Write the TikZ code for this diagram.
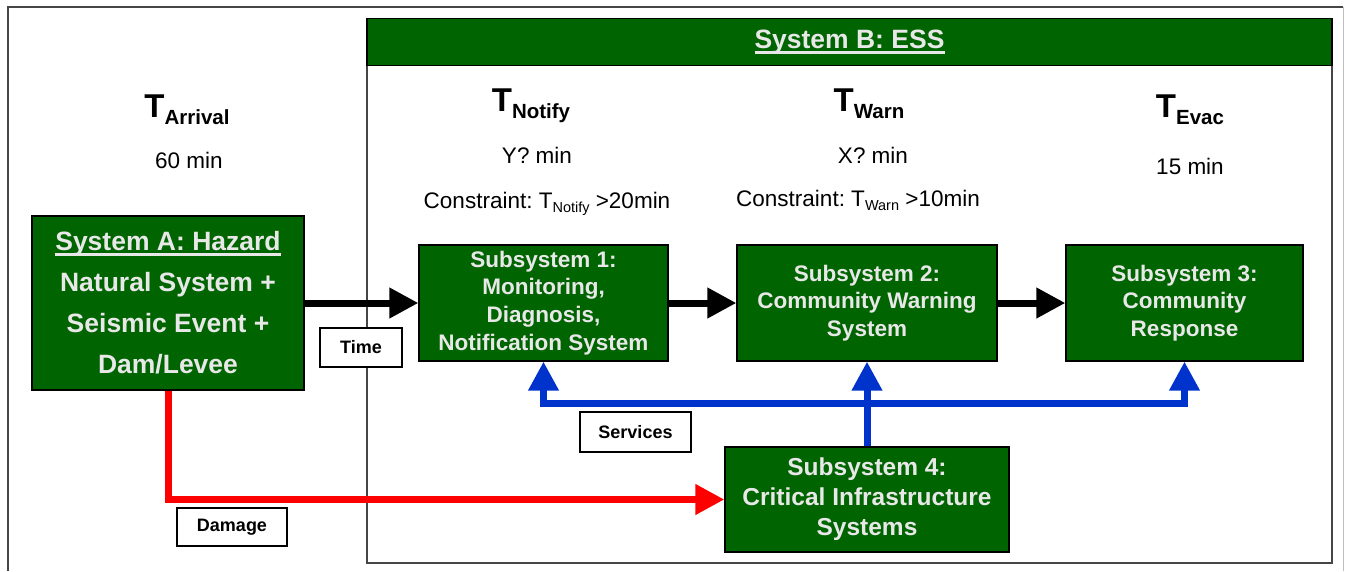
\documentclass[tikz,border=0pt]{standalone}
\usepackage{fontspec}
\setmainfont{Liberation Sans}
\usetikzlibrary{arrows.meta}
\frenchspacing

\definecolor{essgreen}{RGB}{0,100,0}
\definecolor{boxtext}{RGB}{232,232,232}
\definecolor{svcblue}{RGB}{0,51,204}
\definecolor{framegray}{RGB}{70,70,70}

\newcommand{\fs}[1]{\fontsize{#1}{#1}\selectfont}
% big T with a bold subscript
\newcommand{\Tbig}[1]{{\bfseries\fs{33}T\raisebox{-7pt}{\fs{20.5}#1}}}
% T with a small subscript inside running text
\newcommand{\Tsmall}[1]{T\raisebox{-4.5pt}{\fs{14.5}#1}}
% heavy underline close to the baseline
\newcommand{\hdrline}[1]{\setbox0\hbox{#1}\rlap{\rule[-5pt]{\wd0}{2.5pt}}\box0}

\begin{document}
\begin{tikzpicture}[x=1pt, y=-1pt,
  greenbox/.style={draw=black, line width=1.2pt, fill=essgreen, text=boxtext,
    align=center, inner sep=0pt},
  tag/.style={draw=black, line width=1.5pt, fill=white, inner sep=0pt,
    font=\bfseries\fs{18}},
  flow/.style={line width=7pt, -{Triangle[length=29pt, width=29pt]}},
  timing/.style={anchor=base, font=\fs{22.5}}]
  \useasboundingbox (0,0) rectangle (1349,571);

  % page frame
  \draw[framegray, line width=1.5pt] (8,571) -- (8,7) -- (1343,7);
  \draw[lightgray, line width=1pt] (1343,7) -- (1343,571);

  % system B frame and its title bar
  \node[draw=framegray, line width=2pt, minimum width=965, minimum height=544] (ess) at (849.5,291) {};
  \node[draw=black, line width=1.2pt, fill=essgreen, text=boxtext, anchor=north,
    minimum width=965, minimum height=47, font=\bfseries\fs{26.5}] (essTitle) at (ess.north) {\hdrline{System B: ESS}};

  % timing labels
  \node[anchor=base] (tArrival) at (187,117) {\Tbig{Arrival}};
  \node[timing] (arrivalMin) at (189,168) {60 min};
  \node[anchor=base] (tNotify) at (531,111) {\Tbig{Notify}};
  \node[timing] (notifyMin) at (537,163) {Y? min};
  \node[timing] (notifyCon) at (547,208) {Constraint: \Tsmall{Notify} >20min};
  \node[anchor=base] (tWarn) at (869,111) {\Tbig{Warn}};
  \node[timing] (warnMin) at (873,163) {X? min};
  \node[timing] (warnCon) at (858,206) {Constraint: \Tsmall{Warn} >10min};
  \node[anchor=base] (tEvac) at (1190,117) {\Tbig{Evac}};
  \node[timing] (evacMin) at (1190,174) {15 min};

  % systems
  \node[greenbox, minimum width=272, minimum height=174, font=\bfseries\fontsize{26.5}{41}\selectfont]
    (hazard) at (168,303) {\hdrline{System A: Hazard}\\Natural System +\\Seismic Event +\\Dam/Levee};
  \node[greenbox, minimum width=249, minimum height=116, font=\bfseries\fontsize{22.5}{27.7}\selectfont]
    (sub1) at (543.5,303) {Subsystem 1:\\Monitoring,\\Diagnosis,\\Notification System\rule[-3pt]{0pt}{0pt}};
  \node[greenbox, minimum width=260, minimum height=116, font=\bfseries\fontsize{22.5}{27.7}\selectfont]
    (sub2) at (867,303) {Subsystem 2:\\Community Warning\\System\rule[-3pt]{0pt}{0pt}};
  \node[greenbox, minimum width=237, minimum height=116, font=\bfseries\fontsize{22.5}{27.7}\selectfont]
    (sub3) at (1184.5,303) {Subsystem 3:\\Community\\Response};
  \node[greenbox, minimum width=284, minimum height=105, font=\bfseries\fontsize{24.5}{30}\selectfont]
    (sub4) at (867,499.5) {Subsystem 4:\\Critical Infrastructure\\Systems};

  % time flow
  \draw[flow] (hazard.east) -- (sub1.west);
  \draw[flow] (sub1.east) -- (sub2.west);
  \draw[flow] (sub2.east) -- (sub3.west);

  % damage path
  \draw[flow, red] (hazard.south) |- (sub4.west);

  % services from subsystem 4
  \coordinate (hub) at (867,403);
  \draw[flow, svcblue] (sub4.north) -- (sub2.south);
  \draw[flow, svcblue] (hub) -| (sub1.south);
  \draw[flow, svcblue] (hub) -| (sub3.south);

  % tags
  \node[tag, minimum width=82, minimum height=39] (timeTag) at (361,347.5) {Time};
  \node[tag, minimum width=111, minimum height=40] (servTag) at (635.5,432) {Services};
  \node[tag, minimum width=110, minimum height=38] (dmgTag) at (232,527) {Damage};
\end{tikzpicture}
\end{document}
